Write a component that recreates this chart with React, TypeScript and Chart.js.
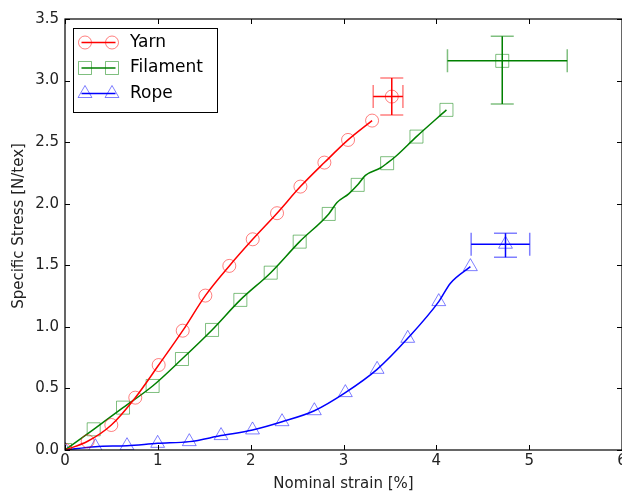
import React, { useEffect, useRef } from "react";
import { Chart, registerables } from "chart.js";

Chart.register(...registerables);

// ---- data ----
const seriesNames = ["Yarn", "Filament", "Rope"];

const xTickValues = [0, 1, 2, 3, 4, 5, 6];
const yTickValues = [0, 0.5, 1, 1.5, 2, 2.5, 3, 3.5];

const yarnStrain = [0, 0.244, 0.499, 0.757, 1.009, 1.268, 1.512, 1.77, 2.022, 2.284, 2.536, 2.794, 3.049, 3.308];
const yarnStress = [0, 0.071, 0.203, 0.425, 0.69, 0.969, 1.254, 1.495, 1.711, 1.923, 2.139, 2.334, 2.518, 2.675];

const filamentStrain = [0, 0.309, 0.625, 0.944, 1.26, 1.584, 1.889, 2.216, 2.528, 2.841, 3.153, 3.47, 3.786, 4.109];
const filamentStress = [0, 0.168, 0.344, 0.52, 0.739, 0.975, 1.219, 1.44, 1.692, 1.917, 2.153, 2.329, 2.545, 2.762];
const filamentLineStrain = [0, 0.309, 0.625, 0.944, 1.26, 1.584, 1.889, 2.216, 2.528, 2.841, 2.93, 3.056, 3.153, 3.236, 3.398, 3.47, 3.57, 3.786, 4.109];
const filamentLineStress = [0, 0.168, 0.344, 0.52, 0.739, 0.975, 1.219, 1.44, 1.692, 1.917, 2.01, 2.08, 2.153, 2.23, 2.29, 2.329, 2.39, 2.545, 2.762];

const ropeStrain = [0, 0.327, 0.668, 0.998, 1.339, 1.681, 2.02, 2.338, 2.686, 3.02, 3.362, 3.692, 4.026, 4.367];
const ropeStress = [0, 0.027, 0.035, 0.054, 0.068, 0.117, 0.163, 0.23, 0.319, 0.466, 0.655, 0.907, 1.205, 1.489];
const ropeLineStrain = [0, 0.327, 0.668, 0.998, 1.339, 1.681, 2.02, 2.338, 2.686, 3.02, 3.362, 3.692, 4.026, 4.152, 4.367];
const ropeLineStress = [0, 0.027, 0.035, 0.054, 0.068, 0.117, 0.163, 0.23, 0.319, 0.466, 0.655, 0.907, 1.205, 1.354, 1.489];

// failure points: mean [strain, stress], ranges [low, high]
const yarnMean = [3.52, 2.87];
const yarnStrainRange = [3.32, 3.64];
const yarnStressRange = [2.72, 3.02];

const filamentMean = [4.71, 3.16];
const filamentStrainRange = [4.12, 5.41];
const filamentStressRange = [2.81, 3.36];

const ropeMean = [4.745, 1.671];
const ropeStrainRange = [4.375, 5.006];
const ropeStressRange = [1.565, 1.76];

// ---- styles ----
const FONT = '"DejaVu Sans", "Liberation Sans", sans-serif';
const lineColors = ["#ff0000", "#008000", "#0000ff"];
const markerColors = ["rgba(255,0,0,0.5)", "rgba(0,128,0,0.5)", "rgba(0,0,255,0.5)"];
const pointStyles = ["circle", "rect", "triangle"] as const;
const pointRadii = [6.5, 9.2, 8];

const toXY = (xs: number[], ys: number[]) => xs.map((x, i) => ({ x, y: ys[i] }));

function drawMarker(ctx: CanvasRenderingContext2D, style: string, x: number, y: number, r: number) {
  ctx.beginPath();
  if (style === "circle") {
    ctx.arc(x, y, r, 0, Math.PI * 2);
  } else if (style === "rect") {
    const s = r * Math.SQRT1_2;
    ctx.rect(x - s, y - s, 2 * s, 2 * s);
  } else {
    let a = 0;
    ctx.moveTo(x + Math.sin(a) * r, y - Math.cos(a) * r);
    a += (2 * Math.PI) / 3;
    ctx.lineTo(x + Math.sin(a) * r, y - Math.cos(a) * r);
    a += (2 * Math.PI) / 3;
    ctx.lineTo(x + Math.sin(a) * r, y - Math.cos(a) * r);
    ctx.closePath();
  }
  ctx.stroke();
}

const errorBarPlugin = {
  id: "errorBars",
  afterDatasetsDraw(chart: any) {
    const { ctx, scales } = chart;
    const items = [
      [yarnMean, yarnStrainRange, yarnStressRange],
      [filamentMean, filamentStrainRange, filamentStressRange],
      [ropeMean, ropeStrainRange, ropeStressRange],
    ];
    const cap = 11.5;
    ctx.save();
    items.forEach(([mean, xr, yr], i) => {
      const cx = scales.x.getPixelForValue(mean[0]);
      const cy = scales.y.getPixelForValue(mean[1]);
      const x0 = scales.x.getPixelForValue(xr[0]);
      const x1 = scales.x.getPixelForValue(xr[1]);
      const y0 = scales.y.getPixelForValue(yr[0]);
      const y1 = scales.y.getPixelForValue(yr[1]);
      ctx.lineWidth = 1.5;
      ctx.strokeStyle = lineColors[i];
      ctx.beginPath();
      ctx.moveTo(x0, cy);
      ctx.lineTo(x1, cy);
      ctx.moveTo(cx, y0);
      ctx.lineTo(cx, y1);
      ctx.stroke();
      ctx.strokeStyle = markerColors[i];
      ctx.beginPath();
      ctx.moveTo(x0, cy - cap);
      ctx.lineTo(x0, cy + cap);
      ctx.moveTo(x1, cy - cap);
      ctx.lineTo(x1, cy + cap);
      ctx.moveTo(cx - cap, y0);
      ctx.lineTo(cx + cap, y0);
      ctx.moveTo(cx - cap, y1);
      ctx.lineTo(cx + cap, y1);
      ctx.stroke();
    });
    ctx.restore();
  },
};

const framePlugin = {
  id: "frameTicks",
  afterDatasetsDraw(chart: any) {
    const { ctx, chartArea: a, scales } = chart;
    const tl = 5;
    ctx.save();
    ctx.strokeStyle = "#000";
    ctx.lineWidth = 1;
    ctx.beginPath();
    xTickValues.forEach((v) => {
      const px = Math.round(scales.x.getPixelForValue(v)) + 0.5;
      ctx.moveTo(px, a.bottom);
      ctx.lineTo(px, a.bottom - tl);
      ctx.moveTo(px, a.top);
      ctx.lineTo(px, a.top + tl);
    });
    yTickValues.forEach((v) => {
      const py = Math.round(scales.y.getPixelForValue(v)) + 0.5;
      ctx.moveTo(a.left, py);
      ctx.lineTo(a.left + tl, py);
      ctx.moveTo(a.right, py);
      ctx.lineTo(a.right - tl, py);
    });
    ctx.stroke();
    ctx.lineWidth = 1.2;
    ctx.strokeRect(a.left, a.top, a.right - a.left, a.bottom - a.top);
    // y axis title
    ctx.translate(19, 226);
    ctx.rotate(-Math.PI / 2);
    ctx.font = `15px ${FONT}`;
    ctx.fillStyle = "#222";
    ctx.textAlign = "center";
    ctx.textBaseline = "middle";
    ctx.fillText("Specific Stress [N/tex]", 0, 0);
    ctx.restore();
  },
};

const legendPlugin = {
  id: "customLegend",
  afterDraw(chart: any) {
    const { ctx } = chart;
    ctx.save();
    ctx.fillStyle = "#fff";
    ctx.fillRect(73.5, 28.5, 144, 84);
    ctx.strokeStyle = "#000";
    ctx.lineWidth = 1;
    ctx.strokeRect(73.5, 28.5, 144, 84);
    const ys = [42.5, 68, 93.5];
    seriesNames.forEach((name, i) => {
      const y = ys[i];
      ctx.strokeStyle = lineColors[i];
      ctx.lineWidth = 1.5;
      ctx.beginPath();
      ctx.moveTo(81.5, y);
      ctx.lineTo(115.5, y);
      ctx.stroke();
      ctx.strokeStyle = markerColors[i];
      ctx.lineWidth = 1;
      drawMarker(ctx, pointStyles[i], 85, y, pointRadii[i]);
      drawMarker(ctx, pointStyles[i], 112, y, pointRadii[i]);
      ctx.fillStyle = "#000";
      ctx.font = `17px ${FONT}`;
      ctx.textAlign = "left";
      ctx.textBaseline = "middle";
      ctx.fillText(name, 130, y);
    });
    ctx.restore();
  },
};

export default function App() {
  const ref = useRef<HTMLCanvasElement | null>(null);

  useEffect(() => {
    if (!ref.current) return;
    const lineSets = [
      toXY(yarnStrain, yarnStress),
      toXY(filamentLineStrain, filamentLineStress),
      toXY(ropeLineStrain, ropeLineStress),
    ];
    const markerSets = [
      toXY(yarnStrain, yarnStress),
      toXY(filamentStrain, filamentStress),
      toXY(ropeStrain, ropeStress),
    ];
    const means = [yarnMean, filamentMean, ropeMean];

    const datasets: any[] = [];
    seriesNames.forEach((name, i) => {
      datasets.push({
        label: name,
        data: lineSets[i],
        borderColor: lineColors[i],
        borderWidth: 1.5,
        pointRadius: 0,
        fill: false,
        cubicInterpolationMode: "monotone",
      });
      datasets.push({
        label: name + " markers",
        data: markerSets[i],
        showLine: false,
        pointStyle: pointStyles[i],
        pointRadius: pointRadii[i],
        pointBorderColor: markerColors[i],
        pointBackgroundColor: "rgba(0,0,0,0)",
        pointBorderWidth: 1,
      });
      datasets.push({
        label: name + " failure",
        data: [{ x: means[i][0], y: means[i][1] }],
        showLine: false,
        pointStyle: pointStyles[i],
        pointRadius: pointRadii[i],
        pointBorderColor: markerColors[i],
        pointBackgroundColor: "rgba(0,0,0,0)",
        pointBorderWidth: 1,
      });
    });

    const chart = new Chart(ref.current, {
      type: "line",
      data: { datasets },
      options: {
        animation: false,
        responsive: false,
        devicePixelRatio: 1,
        events: [],
        layout: { padding: { left: 0, right: 18, top: 19, bottom: 0 } },
        plugins: { legend: { display: false }, tooltip: { enabled: false } },
        scales: {
          x: {
            type: "linear",
            min: 0,
            max: 6,
            afterFit: (s: any) => {
              s.height = 43;
            },
            grid: { display: false, drawTicks: false },
            border: { display: false },
            ticks: {
              stepSize: 1,
              autoSkip: false,
              padding: 2,
              color: "#222",
              font: { family: FONT, size: 15 },
              callback: (v: any) => String(v),
            },
            title: {
              display: true,
              text: "Nominal strain [%]",
              color: "#222",
              font: { family: FONT, size: 15 },
              padding: { top: 0, bottom: 0 },
            },
          },
          y: {
            type: "linear",
            min: 0,
            max: 3.5,
            afterFit: (s: any) => {
              s.width = 65;
            },
            grid: { display: false, drawTicks: false },
            border: { display: false },
            ticks: {
              stepSize: 0.5,
              padding: 6,
              color: "#222",
              font: { family: FONT, size: 15 },
              callback: (v: any) => Number(v).toFixed(1),
            },
          },
        },
      },
      plugins: [errorBarPlugin, framePlugin, legendPlugin],
    });
    return () => chart.destroy();
  }, []);

  return (
    <div
      style={{
        position: "absolute",
        left: 0,
        top: 0,
        width: 622,
        height: 493,
        overflow: "hidden",
        background: "#fff",
      }}
    >
      <canvas ref={ref} width={640} height={493} style={{ display: "block", width: 640, height: 493 }} />
    </div>
  );
}
